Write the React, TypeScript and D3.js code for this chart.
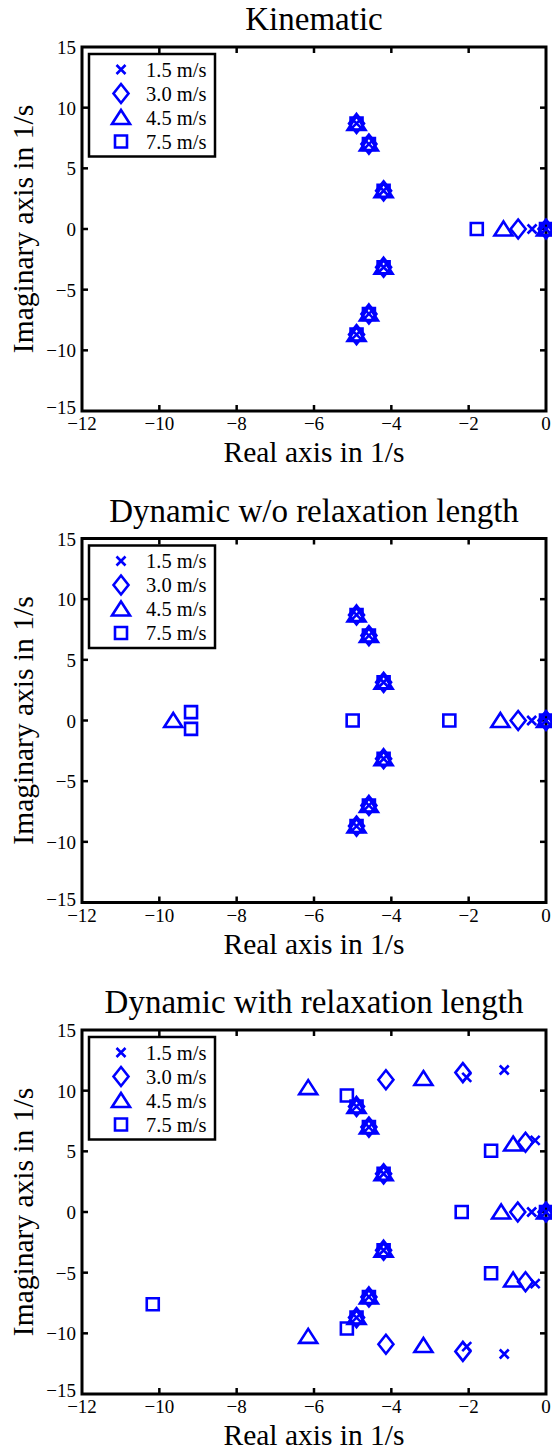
import React from 'react';
import * as d3 from 'd3';

const W = 552;
const H = 1450;

const titles = ['Kinematic', 'Dynamic w/o relaxation length', 'Dynamic with relaxation length'];
const speedLabels = ['1.5 m/s', '3.0 m/s', '4.5 m/s', '7.5 m/s'];
const markerTypes = ['x', 'diamond', 'triangle', 'square'];
const xTicks = [-12, -10, -8, -6, -4, -2, 0];
const yTicks = [-15, -10, -5, 0, 5, 10, 15];
const xLabel = 'Real axis in 1/s';
const yLabel = 'Imaginary axis in 1/s';

// speed-independent poles (appear for every speed)
const chassisRe = [-4.9, -4.58, -4.2, -4.2, -4.58, -4.9, 0];
const chassisIm = [8.7, 7.0, 3.15, -3.15, -7.0, -8.7, 0];

// Panel 1: Kinematic
const kin15Re = [-0.36];
const kin15Im = [0];
const kin30Re = [-0.72];
const kin30Im = [0];
const kin45Re = [-1.1];
const kin45Im = [0];
const kin75Re = [-1.79];
const kin75Im = [0];

// Panel 2: Dynamic w/o relaxation length
const dyn15Re = [-0.37];
const dyn15Im = [0];
const dyn30Re = [-0.72];
const dyn30Im = [0];
const dyn45Re = [-1.18, -9.64];
const dyn45Im = [0, 0];
const dyn75Re = [-2.5, -5.0, -9.18, -9.18];
const dyn75Im = [0, 0, 0.69, -0.69];

// Panel 3: Dynamic with relaxation length
const rel15Re = [-0.37, -0.28, -0.28, -2.05, -2.05, -1.08, -1.08];
const rel15Im = [0, 5.9, -5.9, 11.1, -11.1, 11.7, -11.7];
const rel30Re = [-0.73, -0.53, -0.53, -2.15, -2.15, -4.14, -4.14];
const rel30Im = [0, 5.75, -5.75, 11.49, -11.49, 10.9, -10.9];
const rel45Re = [-1.16, -0.85, -0.85, -3.17, -3.17, -6.15, -6.15];
const rel45Im = [0, 5.6, -5.6, 11.0, -11.0, 10.25, -10.25];
const rel75Re = [-2.18, -1.42, -1.42, -5.15, -5.15, -10.17];
const rel75Im = [0, 5.05, -5.05, 9.6, -9.6, -7.6];

const panelSeries = [
  [
    [kin15Re, kin15Im],
    [kin30Re, kin30Im],
    [kin45Re, kin45Im],
    [kin75Re, kin75Im],
  ],
  [
    [dyn15Re, dyn15Im],
    [dyn30Re, dyn30Im],
    [dyn45Re, dyn45Im],
    [dyn75Re, dyn75Im],
  ],
  [
    [rel15Re, rel15Im],
    [rel30Re, rel30Im],
    [rel45Re, rel45Im],
    [rel75Re, rel75Im],
  ],
];

const BLUE = '#0000ff';
const LEFT = 82;
const RIGHT = 546;
const PH = 364;
const panelTops = [47, 538.5, 1030];
const FONT = '"Liberation Serif", "Times New Roman", serif';

function markerPath(type: string): string {
  switch (type) {
    case 'x':
      return 'M-4.5,-4.5L4.5,4.5M-4.5,4.5L4.5,-4.5';
    case 'diamond':
      return 'M0,-9.5L7.5,0L0,9.5L-7.5,0Z';
    case 'triangle':
      return 'M0,-7.5L9,6.5L-9,6.5Z';
    default:
      return 'M-6,-6H6V6H-6Z';
  }
}

function Marker({ type, x, y }: { type: string; x: number; y: number }) {
  return (
    <path
      d={markerPath(type)}
      transform={`translate(${x},${y})`}
      fill="none"
      stroke={BLUE}
      strokeWidth={2.6}
      strokeLinejoin="miter"
    />
  );
}

function Panel({ idx }: { idx: number }) {
  const top = panelTops[idx];
  const xs = d3.scaleLinear().domain([-12, 0]).range([LEFT, RIGHT]);
  const ys = d3.scaleLinear().domain([-15, 15]).range([top + PH, top]);
  const series = panelSeries[idx];
  const fmt = (v: number) => (v < 0 ? '\u2212' + Math.abs(v) : String(v));
  const midX = (LEFT + RIGHT) / 2;
  const midY = top + PH / 2;
  const legX = LEFT + 7;
  const legY = top + 7;
  return (
    <g>
      <text x={midX} y={top - 17} textAnchor="middle" fontFamily={FONT} fontSize={33} fill="#000">
        {titles[idx]}
      </text>
      {/* ticks */}
      {xTicks.slice(1, -1).map((t) => (
        <g key={'xt' + t}>
          <line x1={xs(t)} x2={xs(t)} y1={top + PH} y2={top + PH - 6} stroke="#000" strokeWidth={2.5} />
          <line x1={xs(t)} x2={xs(t)} y1={top} y2={top + 6} stroke="#000" strokeWidth={2.5} />
        </g>
      ))}
      {yTicks.slice(1, -1).map((t) => (
        <g key={'yt' + t}>
          <line x1={LEFT} x2={LEFT + 6} y1={ys(t)} y2={ys(t)} stroke="#000" strokeWidth={2.5} />
          <line x1={RIGHT} x2={RIGHT - 6} y1={ys(t)} y2={ys(t)} stroke="#000" strokeWidth={2.5} />
        </g>
      ))}
      <rect x={LEFT} y={top} width={RIGHT - LEFT} height={PH} fill="none" stroke="#000" strokeWidth={3} />
      {/* tick labels */}
      {xTicks.map((t) => (
        <text key={'xl' + t} x={xs(t)} y={top + PH + 19} textAnchor="middle" fontFamily={FONT} fontSize={19} fill="#000">
          {fmt(t)}
        </text>
      ))}
      {yTicks.map((t) => (
        <text
          key={'yl' + t}
          x={LEFT - 6}
          y={ys(t) + (t === -15 ? 3 : 7)}
          textAnchor="end"
          fontFamily={FONT}
          fontSize={19}
          fill="#000"
        >
          {fmt(t)}
        </text>
      ))}
      <text x={midX} y={top + PH + 51} textAnchor="middle" fontFamily={FONT} fontSize={29.5} fill="#000">
        {xLabel}
      </text>
      <text
        transform={`translate(33,${midY}) rotate(-90)`}
        textAnchor="middle"
        fontFamily={FONT}
        fontSize={29.5}
        fill="#000"
      >
        {yLabel}
      </text>
      {/* data markers */}
      {series.map(([re, im], si) => {
        const allRe = [...chassisRe, ...re];
        const allIm = [...chassisIm, ...im];
        return (
          <g key={'s' + si}>
            {allRe.map((r, i) => (
              <Marker key={i} type={markerTypes[si]} x={xs(r)} y={ys(allIm[i])} />
            ))}
          </g>
        );
      })}
      {/* legend */}
      <rect x={legX} y={legY} width={215 - legX} height={102.5} fill="#fff" stroke="#000" strokeWidth={2.5} />
      {speedLabels.map((s, i) => {
        const ry = top + 22.5 + i * 24;
        return (
          <g key={'lg' + i}>
            <Marker type={markerTypes[i]} x={121} y={ry} />
            <text x={146} y={ry + 7} fontFamily={FONT} fontSize={20.5} fill="#000">
              {s}
            </text>
          </g>
        );
      })}
    </g>
  );
}

export default function App() {
  return (
    <svg
      width={W}
      height={H}
      viewBox={`0 0 ${W} ${H}`}
      style={{ position: 'absolute', left: 0, top: 0, background: '#fff' }}
    >
      <rect x={0} y={0} width={W} height={H} fill="#fff" />
      {[0, 1, 2].map((i) => (
        <Panel key={i} idx={i} />
      ))}
    </svg>
  );
}
